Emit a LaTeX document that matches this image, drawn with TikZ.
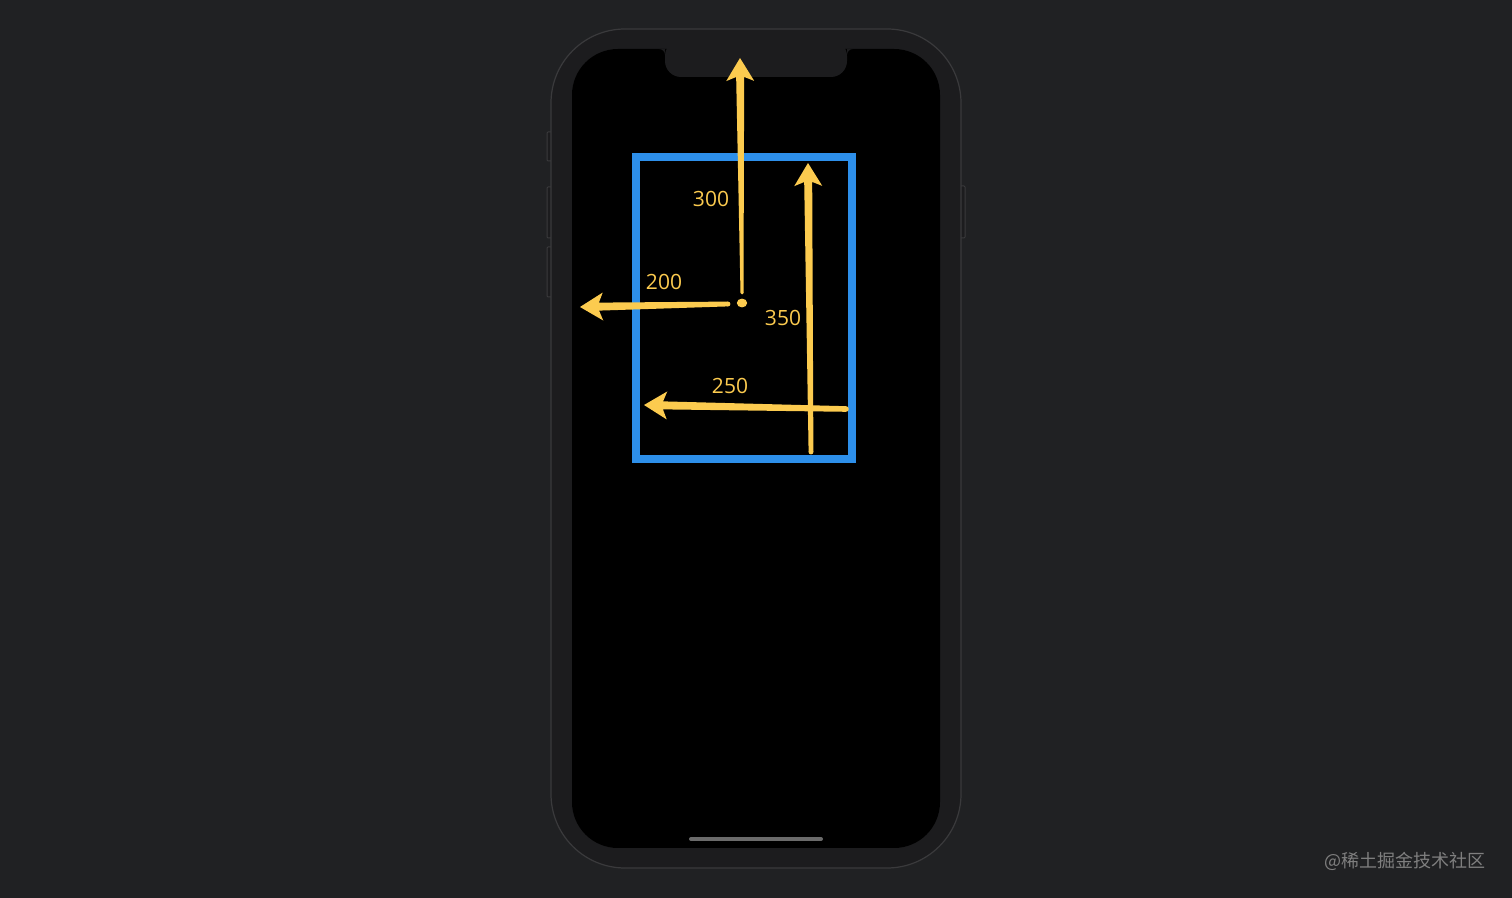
\documentclass[tikz,border=0pt]{standalone}
\usepackage{fontspec}
\setmainfont{Open Sans}
\newfontfamily\cjk{Noto Sans CJK SC}
\usetikzlibrary{calc}
\definecolor{bgcol}{HTML}{202123}
\definecolor{bodycol}{HTML}{1C1C1E}
\definecolor{rimcol}{HTML}{3A3A3C}
\definecolor{framecol}{HTML}{2D8FEA}
\definecolor{arrowcol}{HTML}{FCCB4F}
\definecolor{homecol}{HTML}{6B6B6B}
\definecolor{markcol}{HTML}{7F7F7F}
\tikzset{
  arrowfill/.style={fill=arrowcol},
  lbl/.style={text=arrowcol, font=\fontsize{10.5}{12}\selectfont, inner sep=0pt},
  button/.style={draw=rimcol, fill=bodycol, line width=0.5pt, rounded corners=0.5pt}
}
% tapered arrow: [tail half width](tail)(tip)
\def\taperarrow[#1](#2)(#3){%
  \coordinate (neck) at ($(#3)!9.5pt!(#2)$);
  \coordinate (barb) at ($(#3)!11.5pt!(#2)$);
  \fill[arrowfill] ($(#2)!#1!90:(#3)$) -- ($(neck)!2pt!90:(#3)$) -- ($(barb)!7pt!90:(#3)$)
    -- (#3) -- ($(barb)!7pt!-90:(#3)$) -- ($(neck)!2pt!-90:(#3)$) -- ($(#2)!#1!-90:(#3)$) -- cycle;
  \fill[arrowfill] (#2) circle (#1);}

\begin{document}
\begin{tikzpicture}[x=0.5pt, y=-0.5pt]
  %%%%% BACKGROUND %%%%%
  \fill[bgcol] (0,0) rectangle (1512,898);
  \useasboundingbox (0,0) rectangle (1512,898);

  %%%%% PHONE %%%%%
  \draw[button] (547,132) rectangle (552,161);
  \draw[button] (547,187) rectangle (552,238);
  \draw[button] (547,247) rectangle (552,297);
  \draw[button] (960,186) rectangle (965,238);
  \draw[draw=rimcol, fill=bodycol, line width=0.6pt, rounded corners=37pt] (551,29) rectangle (961,868);
  \fill[black, rounded corners=23pt] (572,49) rectangle (940,848);
  \fill[bodycol, rounded corners=8pt] (665,40) -- (665,77) -- (847,77) -- (847,40) -- cycle;
  \fill[bodycol] (659,49) -- (665,49) -- (665,55) arc (0:90:3pt) -- cycle;
  \fill[bodycol] (853,49) -- (847,49) -- (847,55) arc (180:90:3pt) -- cycle;
  \draw[homecol, line width=2pt, line cap=round] (691,839) -- (821,839);

  %%%%% FRAME %%%%%
  \draw[framecol, line width=4pt] (636,157) rectangle (852,459);

  %%%%% ARROWS %%%%%
  \coordinate (dot) at (742,303);
  \coordinate (t300) at (742,293);
  \coordinate (p300) at (740,58);
  \coordinate (t200) at (728,304);
  \coordinate (p200) at (580,307);
  \coordinate (t350) at (811,452);
  \coordinate (p350) at (808,163);
  \coordinate (t250) at (846,409);
  \coordinate (p250) at (644,405);
  \taperarrow[0.75pt](t300)(p300)
  \taperarrow[1.2pt](t200)(p200)
  \taperarrow[1.2pt](t350)(p350)
  \taperarrow[1.4pt](t250)(p250)
  \fill[arrowcol] (dot) ellipse (2.6pt and 2.2pt);

  \node[lbl] (l300) at (711,199) {300};
  \node[lbl] (l200) at (664,282) {200};
  \node[lbl] (l350) at (783,318) {350};
  \node[lbl] (l250) at (730,386) {250};

  %%%%% WATERMARK %%%%%
  \node[text=markcol, font=\cjk\fontsize{9}{10}\selectfont, anchor=east, inner sep=0pt] (mark) at (1486,861) {@稀土掘金技术社区};
\end{tikzpicture}
\end{document}
